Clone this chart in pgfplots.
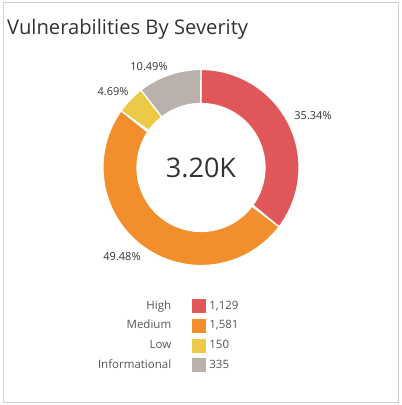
\documentclass[border=0pt]{standalone}
\usepackage{pgfplots}
\pgfplotsset{compat=1.18}
\usepackage{fontspec}
\setmainfont{Open Sans}
\definecolor{cHigh}{HTML}{E15759}
\definecolor{cMed}{HTML}{F28E2B}
\definecolor{cLow}{HTML}{EDC948}
\definecolor{cInfo}{HTML}{BAB0AC}
\definecolor{frm}{HTML}{D0D0D0}
\definecolor{txt}{HTML}{333333}
\definecolor{lgt}{HTML}{555555}

\def\vHigh{1129}\def\vMed{1581}\def\vLow{150}\def\vInfo{335}
\pgfmathsetmacro\tot{\vHigh+\vMed+\vLow+\vInfo}
\pgfmathsetmacro\aA{90}
\pgfmathsetmacro\aB{\aA-360*(\vHigh/\tot)}
\pgfmathsetmacro\aC{\aB-360*(\vMed/\tot)}
\pgfmathsetmacro\aD{\aC-360*(\vLow/\tot)}
\pgfmathsetmacro\aE{\aD-360*(\vInfo/\tot)}
\def\cx{201}\def\cy{237.5}\def\ro{98}\def\ri{64}

\newcommand\seg[3]{%
 \addplot[fill=#1, draw=white, line width=1.2pt, domain=0:3, samples=301, variable=\t,
   legend image code/.code={\fill[#1] (0pt,-6.5pt) rectangle (13pt,6.5pt);}]
 ({\cx+(\t<=1 ? \ro : (\t<=2 ? \ri : \ri+(\ro-\ri)*(\t-2)))*cos(\t<=1 ? (#2)+((#3)-(#2))*\t : (\t<=2 ? (#3)-((#3)-(#2))*(\t-1) : (#2)))},
  {\cy+(\t<=1 ? \ro : (\t<=2 ? \ri : \ri+(\ro-\ri)*(\t-2)))*sin(\t<=1 ? (#2)+((#3)-(#2))*\t : (\t<=2 ? (#3)-((#3)-(#2))*(\t-1) : (#2)))});
}

\begin{document}
\begin{tikzpicture}
\begin{axis}[
  width=402pt, height=405pt, scale only axis,
  xmin=0, xmax=402, ymin=0, ymax=405,
  axis lines=none, clip=false,
  legend columns=2,
  legend cell align=left,
  legend style={at={(axis cs:88,106)}, anchor=north west, draw=none, fill=none,
    inner sep=0pt, row sep=5.5pt,
    font=\fontsize{11.5}{13}\selectfont, text=lgt,
    nodes={inner sep=0pt, text height=8.5pt, text depth=2.5pt},
    /tikz/every odd column/.append style={column sep=3pt},
    /tikz/every even column/.append style={column sep=21pt}},
]
\path (axis cs:0,0) rectangle (axis cs:402,405);
\draw[frm, line width=1pt] (axis cs:3.5,2.5) rectangle (axis cs:398.5,402.5);

\addlegendimage{empty legend}\addlegendentry{\makebox[80pt][r]{High}}
\seg{cHigh}{\aA}{\aB}\addlegendentry{1,129}
\addlegendimage{empty legend}\addlegendentry{\makebox[80pt][r]{Medium}}
\seg{cMed}{\aB}{\aC}\addlegendentry{1,581}
\addlegendimage{empty legend}\addlegendentry{\makebox[80pt][r]{Low}}
\seg{cLow}{\aC}{\aD}\addlegendentry{150}
\addlegendimage{empty legend}\addlegendentry{\makebox[80pt][r]{Informational}}
\seg{cInfo}{\aD}{\aE}\addlegendentry{335}

\node[anchor=base west, inner sep=0pt, text=txt, font=\fontsize{20.2}{24}\selectfont] at (axis cs:7,370) {Vulnerabilities By Severity};
\node[text=txt, font=\fontsize{27}{31}\selectfont] at (axis cs:\cx,\cy) {3.20K};
\node[text=txt, font=\fontsize{11}{13}\selectfont] at (axis cs:313,289) {35.34\%};
\node[text=txt, font=\fontsize{11}{13}\selectfont] at (axis cs:122,148) {49.48\%};
\node[text=txt, font=\fontsize{11}{13}\selectfont] at (axis cs:113,313) {4.69\%};
\node[text=txt, font=\fontsize{11}{13}\selectfont] at (axis cs:149,338) {10.49\%};
\end{axis}
\end{tikzpicture}
\end{document}
